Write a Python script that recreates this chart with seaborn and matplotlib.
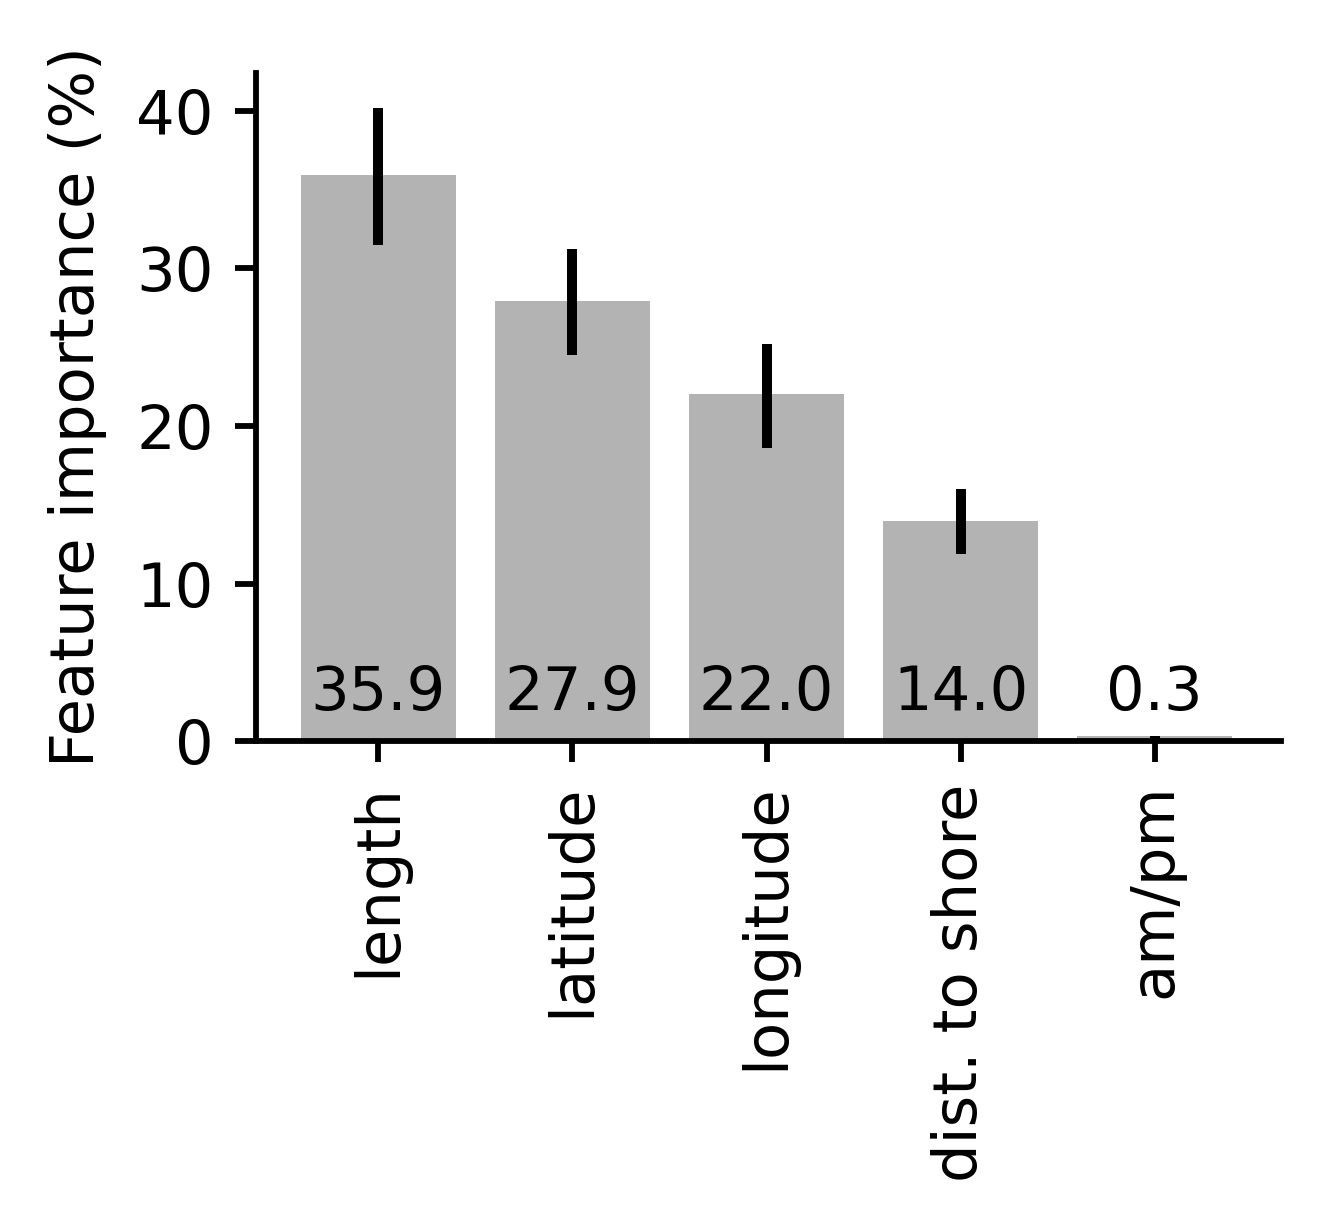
import matplotlib
matplotlib.use("Agg")
import matplotlib.pyplot as plt
import seaborn as sns
import pandas as pd
import numpy as np

features = ["length", "latitude", "longitude", "dist. to shore", "am/pm"]
importance = [35.9, 27.9, 22.0, 14.0, 0.3]
err_low = [31.5, 24.5, 18.6, 11.9, 0.1]
err_high = [40.2, 31.2, 25.2, 16.0, 0.35]

sns.set_style("ticks")
plt.rcParams['font.family'] = ['DejaVu Sans']
plt.rcParams['text.color'] = 'black'
plt.rcParams['axes.labelcolor'] = 'black'
plt.rcParams['xtick.color'] = 'black'
plt.rcParams['ytick.color'] = 'black'
plt.rcParams['axes.edgecolor'] = 'black'

df = pd.DataFrame({"feature": features, "importance": importance})

fig = plt.figure(figsize=(1321/600, 1227/600), dpi=600)
ax = fig.add_axes([0.1938, 0.396, 0.9697 - 0.1938, 0.9405 - 0.396])

sns.barplot(data=df, x="feature", y="importance", color="#b3b3b3",
            saturation=1, width=0.8, errorbar=None, linewidth=0,
            edgecolor="none", ax=ax)

xs = np.arange(len(features))
ax.vlines(xs, err_low, err_high, colors="black", linewidth=1.2, zorder=3)

fs = 7.3
for x, v in zip(xs, importance):
    ax.text(x, 2.0, f"{v:.1f}", ha="center", va="baseline", fontsize=fs,
            color="black")

ax.set_xlim(-0.63, 4.65)
ax.set_ylim(0, 42.4)
ax.set_yticks([0, 10, 20, 30, 40])
ax.set_xlabel("")
ax.set_ylabel("Feature importance (%)", fontsize=fs, labelpad=3.5)
ax.tick_params(axis="both", labelsize=fs, width=0.7, length=2.5, pad=2.6)
plt.setp(ax.get_xticklabels(), rotation=90)
for s in ["left", "bottom"]:
    ax.spines[s].set_linewidth(0.7)
sns.despine(ax=ax)

fig.savefig("out.png", dpi=600)
